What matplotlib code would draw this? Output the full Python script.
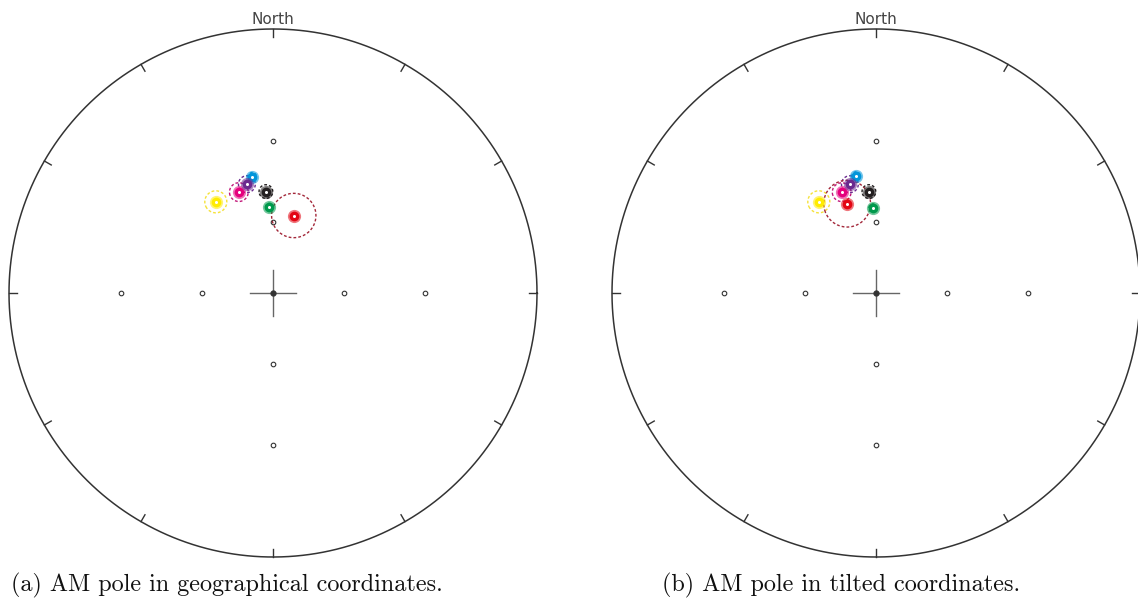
import numpy as np
import matplotlib
matplotlib.use("Agg")
import matplotlib.pyplot as plt

# ---- data (declination, inclination, alpha95 in degrees) ----
pole_names = ["blue", "magenta", "purple", "black", "yellow", "green", "red"]
pole_colors = ["#0095DA", "#E5007D", "#6B2A8F", "#231F20", "#FFEC00", "#00994C", "#E30613"]
ring_colors = ["#0095DA", "#C2187A", "#6B2A8F", "#231F20", "#F5E23A", "#00994C", "#A3283A"]

geo_dec = [349.9, 341.3, 346.5, 356.0, 327.9, 357.5, 15.0]
geo_inc = [41.8, 46.1, 44.1, 47.9, 45.7, 54.0, 56.4]
geo_a95 = [1.5, 3.5, 3.1, 2.6, 4.1, 1.5, 8.8]

tilt_dec = [350.3, 341.2, 346.5, 356.0, 327.9, 357.8, 342.1]
tilt_inc = [41.6, 46.1, 44.1, 47.9, 45.7, 54.2, 51.1]
tilt_a95 = [1.5, 3.5, 3.1, 2.6, 4.1, 1.5, 9.0]

net_dec = [0, 90, 180, 270]
net_inc = [30, 60]
rim_ticks = list(range(0, 360, 30))

captions = ["(a) AM pole in geographical coordinates.",
            "(b) AM pole in tilted coordinates."]


def unit_vec(dec, inc):
    d, i = np.radians(dec), np.radians(inc)
    return np.array([np.cos(i) * np.cos(d), np.cos(i) * np.sin(d), np.sin(i)])


def proj(v):
    n, e, d = v[0], v[1], v[2]
    return e / (1 + d), n / (1 + d)


def small_circle(dec, inc, a95, npts=200):
    v = unit_vec(dec, inc)
    tmp = np.array([0, 0, 1.0]) if abs(v[2]) < 0.9 else np.array([1.0, 0, 0])
    u1 = np.cross(v, tmp); u1 /= np.linalg.norm(u1)
    u2 = np.cross(v, u1)
    t = np.linspace(0, 2 * np.pi, npts)
    a = np.radians(a95)
    pts = (v[:, None] * np.cos(a) + (u1[:, None] * np.cos(t) + u2[:, None] * np.sin(t)) * np.sin(a))
    return proj(pts)


W, H = 1138, 610
fig = plt.figure(figsize=(W / 100, H / 100), dpi=100)

R_px = 264.0
L = 1.1
centers = [(273, 293), (876, 293)]

for k, (cx, cy) in enumerate(centers):
    half = R_px * L
    ax = fig.add_axes([(cx - half) / W, (H - cy - half) / H, 2 * half / W, 2 * half / H])
    ax.set_xlim(-L, L)
    ax.set_ylim(-L, L)
    ax.set_aspect("equal")
    ax.axis("off")

    # primitive circle
    th = np.linspace(0, 2 * np.pi, 720)
    ax.plot(np.cos(th), np.sin(th), color="#333333", lw=1.1, clip_on=False)
    for a in rim_ticks:
        s, c = np.sin(np.radians(a)), np.cos(np.radians(a))
        ax.plot([s, 0.97 * s], [c, 0.97 * c], color="#333333", lw=1.0, clip_on=False)

    ax.text(0, 1.02, "North", ha="center", va="baseline", fontsize=11,
            color="#444444", family="DejaVu Sans")

    # central cross
    ax.plot([-0.086, 0.086], [0, 0], color="#666666", lw=1.0)
    ax.plot([0, 0], [-0.086, 0.086], color="#666666", lw=1.0)
    ax.plot([0], [0], "o", ms=3.5, color="#333333")

    # net markers
    for dd in net_dec:
        for ii in net_inc:
            x, y = proj(unit_vec(dd, ii))
            ax.plot([x], [y], "o", ms=3.3, mfc="white", mec="#333333", mew=0.8)

    decs = [geo_dec, tilt_dec][k]
    incs = [geo_inc, tilt_inc][k]
    a95s = [geo_a95, tilt_a95][k]

    for j in range(len(decs)):
        cxs, cys = small_circle(decs[j], incs[j], a95s[j])
        ax.plot(cxs, cys, color=ring_colors[j], lw=1.0, ls=(0, (2.0, 1.5)), zorder=3)

    for j in range(len(decs)):
        x, y = proj(unit_vec(decs[j], incs[j]))
        ax.plot([x], [y], "o", ms=9.5, color=pole_colors[j], alpha=0.55, mew=0, zorder=4)
        ax.plot([x], [y], "o", ms=7.0, color=pole_colors[j], mew=0, zorder=4)
        ax.plot([x], [y], "o", ms=2.2, color="white", mew=0, zorder=4)

fig.text(11 / W, 1 - 591 / H, captions[0], ha="left", va="baseline",
         fontsize=17.4, family="cmr10", color="#111111")
fig.text(662 / W, 1 - 591 / H, captions[1], ha="left", va="baseline",
         fontsize=17.4, family="cmr10", color="#111111")

fig.savefig("out.png", dpi=100)
